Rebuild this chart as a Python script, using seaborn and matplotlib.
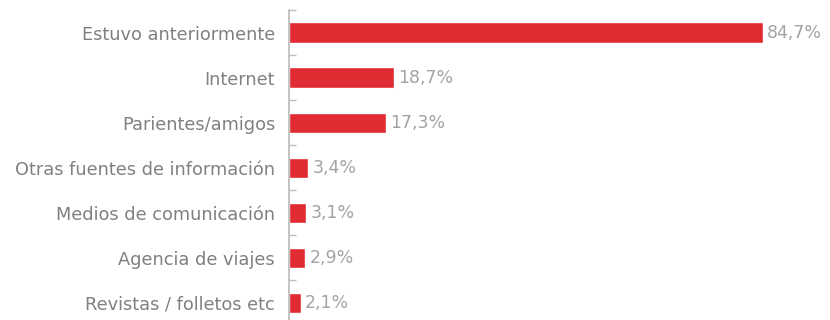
import matplotlib
matplotlib.use("Agg")
import matplotlib.pyplot as plt
import seaborn as sns
import pandas as pd

# data
categories = ["Estuvo anteriormente", "Internet", "Parientes/amigos",
              "Otras fuentes de información", "Medios de comunicación",
              "Agencia de viajes", "Revistas / folletos etc"]
values = [84.7, 18.7, 17.3, 3.4, 3.1, 2.9, 2.1]

df = pd.DataFrame({"fuente": categories, "pct": values})

sns.set_style("white")
plt.rcParams['font.family'] = ['DejaVu Sans']

fig = plt.figure(figsize=(8.3, 3.2), dpi=100)
# axis sits at x=289px, runs off the bottom edge
ax = fig.add_axes([289 / 830, -5.5 / 320, 1 - 289 / 830, 315.5 / 320])

sns.barplot(data=df, y="fuente", x="pct", color="#E02B33", width=0.45,
            saturation=1, ax=ax, orient="h")

labels = [f"{v:.1f}%".replace(".", ",") for v in values]
ax.bar_label(ax.containers[0], labels=labels, padding=3,
             color="#A3A3A3", fontsize=12.5)

ax.set_xlim(0, 96.7)
ax.set_ylim(len(categories) - 0.5, -0.5)
ax.set_xlabel("")
ax.set_ylabel("")
ax.set_xticks([])

for s in ["top", "right", "bottom"]:
    ax.spines[s].set_visible(False)
ax.spines["left"].set_color("#BFBFBF")
ax.spines["left"].set_linewidth(1.3)

ax.tick_params(axis="y", which="major", left=False, length=0, pad=10,
               labelsize=12.8, labelcolor="#808080")
# small ticks between categories, pointing into the plot
ax.set_yticks([i - 0.5 for i in range(len(categories) + 1)], minor=True)
ax.tick_params(axis="y", which="minor", left=True, direction="in", length=5,
               width=1, color="#BFBFBF")

fig.savefig("out.png", dpi=100)
